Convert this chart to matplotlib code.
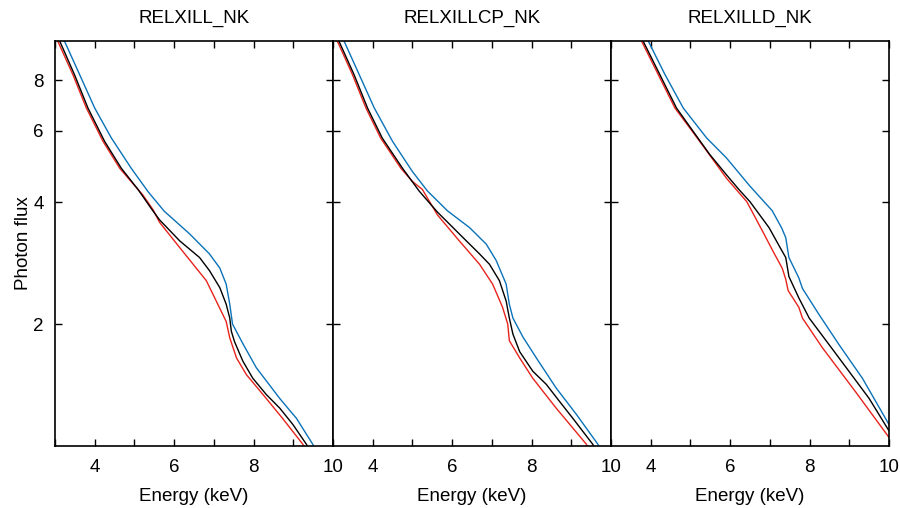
import matplotlib.pyplot as plt
from matplotlib.ticker import FixedLocator, FixedFormatter, NullLocator

plt.rcParams['font.family'] = ['Liberation Sans', 'DejaVu Sans']

titles = ['RELXILL_NK', 'RELXILLCP_NK', 'RELXILLD_NK']

# panel 1 (relxill_nk)
e1_black = [3.06, 3.12, 3.49, 3.83, 4.25, 4.67, 5.09, 5.43, 5.63, 6.14, 6.64, 6.89, 7.15, 7.31, 7.40, 7.44, 7.52, 7.73, 7.98, 8.32, 8.66, 8.99, 9.33, 9.40]
f1_black = [10.3, 9.99, 8.26, 6.83, 5.65, 4.85, 4.30, 3.85, 3.62, 3.21, 2.92, 2.71, 2.46, 2.24, 2.07, 1.92, 1.81, 1.62, 1.47, 1.34, 1.24, 1.13, 1.01, 0.98]
e1_blue = [3.18, 3.24, 3.62, 4.00, 4.42, 4.92, 5.34, 5.75, 6.39, 6.89, 7.15, 7.31, 7.40, 7.47, 7.73, 8.07, 8.66, 9.08, 9.49, 9.56]
f1_blue = [10.3, 9.99, 8.26, 6.83, 5.76, 4.85, 4.25, 3.80, 3.34, 2.98, 2.75, 2.51, 2.24, 2.00, 1.79, 1.56, 1.31, 1.17, 1.01, 0.98]
e1_red = [3.01, 3.07, 3.45, 3.79, 4.21, 4.63, 5.00, 5.21, 5.47, 5.63, 6.14, 6.81, 7.06, 7.31, 7.40, 7.57, 7.82, 8.32, 8.73, 9.24, 9.31]
f1_red = [10.3, 9.99, 8.26, 6.83, 5.65, 4.85, 4.40, 4.17, 3.83, 3.57, 3.09, 2.56, 2.28, 2.03, 1.85, 1.65, 1.50, 1.31, 1.17, 1.01, 0.98]

# panel 2 (relxillcp_nk)
e2_black = [3.09, 3.15, 3.53, 3.87, 4.24, 4.75, 5.17, 5.63, 6.18, 6.69, 6.94, 7.19, 7.36, 7.44, 7.53, 7.70, 8.03, 8.37, 8.70, 9.04, 9.54, 9.61]
f2_black = [10.3, 9.99, 8.26, 6.83, 5.76, 4.85, 4.26, 3.78, 3.34, 2.98, 2.81, 2.56, 2.28, 2.07, 1.89, 1.71, 1.53, 1.42, 1.29, 1.17, 1.01, 0.98]
e2_blue = [3.22, 3.28, 3.66, 4.04, 4.50, 5.00, 5.38, 5.88, 6.44, 6.86, 7.11, 7.36, 7.44, 7.53, 7.78, 8.12, 8.62, 9.12, 9.67, 9.74]
f2_blue = [10.3, 9.99, 8.26, 6.83, 5.65, 4.76, 4.26, 3.81, 3.46, 3.15, 2.87, 2.51, 2.24, 2.07, 1.86, 1.65, 1.39, 1.20, 1.01, 0.98]
e2_red = [3.05, 3.11, 3.49, 3.83, 4.20, 4.71, 5.00, 5.25, 5.63, 6.18, 6.69, 7.02, 7.27, 7.40, 7.44, 7.70, 8.03, 8.62, 9.38, 9.45]
f2_red = [10.3, 9.99, 8.26, 6.83, 5.76, 4.85, 4.50, 4.30, 3.72, 3.21, 2.81, 2.51, 2.20, 2.00, 1.82, 1.65, 1.47, 1.24, 1.01, 0.98]

# panel 3 (relxilld_nk)
e3_black = [3.75, 3.81, 4.23, 4.65, 5.07, 5.49, 5.91, 6.22, 6.50, 6.98, 7.25, 7.40, 7.48, 7.73, 7.99, 8.49, 8.99, 9.50, 10.0]
f3_black = [10.3, 9.99, 8.26, 6.83, 5.98, 5.24, 4.67, 4.30, 4.01, 3.46, 3.10, 2.92, 2.62, 2.32, 2.07, 1.78, 1.53, 1.31, 1.09]
e3_blue = [3.88, 3.94, 4.36, 4.82, 5.41, 5.91, 6.50, 7.06, 7.30, 7.40, 7.48, 7.73, 7.82, 8.24, 8.74, 9.33, 10.0]
f3_blue = [10.3, 9.99, 8.26, 6.83, 5.76, 5.14, 4.38, 3.81, 3.45, 3.27, 2.92, 2.60, 2.45, 2.11, 1.78, 1.47, 1.13]
e3_red = [3.71, 3.77, 4.19, 4.61, 5.05, 5.49, 5.91, 6.42, 6.81, 7.10, 7.31, 7.40, 7.46, 7.73, 7.82, 8.32, 9.16, 10.0]
f3_red = [10.3, 9.99, 8.26, 6.83, 5.98, 5.22, 4.58, 4.01, 3.40, 3.00, 2.75, 2.58, 2.42, 2.20, 2.07, 1.75, 1.36, 1.05]

panels = [
    [(e1_red, f1_red), (e1_blue, f1_blue), (e1_black, f1_black)],
    [(e2_red, f2_red), (e2_blue, f2_blue), (e2_black, f2_black)],
    [(e3_red, f3_red), (e3_blue, f3_blue), (e3_black, f3_black)],
]
colors = ['#e8231c', '#0a72b8', 'black']

fig, axes = plt.subplots(1, 3, figsize=(9, 5.08), dpi=100, sharey=True)
fig.subplots_adjust(left=55/900, right=889/900, top=1-41/508, bottom=1-446/508, wspace=0)

for ax, title, curves in zip(axes, titles, panels):
    for (x, y), c in zip(curves, colors):
        ax.plot(x, y, color=c, lw=1.0)
    ax.set_yscale('log')
    ax.set_xlim(3, 10)
    ax.set_ylim(1, 10)
    ax.xaxis.set_major_locator(FixedLocator([4, 6, 8, 10]))
    ax.xaxis.set_minor_locator(FixedLocator([3, 5, 7, 9]))
    ax.yaxis.set_major_locator(FixedLocator([2, 4, 6, 8]))
    ax.yaxis.set_major_formatter(FixedFormatter(['2', '4', '6', '8']))
    ax.yaxis.set_minor_locator(NullLocator())
    ax.tick_params(which='both', direction='in', top=True, right=True,
                   length=5, width=1.0, labelsize=13.5)
    ax.tick_params(axis='x', pad=9)
    ax.tick_params(axis='y', pad=8)
    for s in ax.spines.values():
        s.set_linewidth(1.2)
    ax.set_title(title, fontsize=13.5, pad=13)
    ax.set_xlabel('Energy (keV)', fontsize=13.5, labelpad=9)

axes[0].set_ylabel('Photon flux', fontsize=13.5, labelpad=1)

plt.savefig('out.png')
